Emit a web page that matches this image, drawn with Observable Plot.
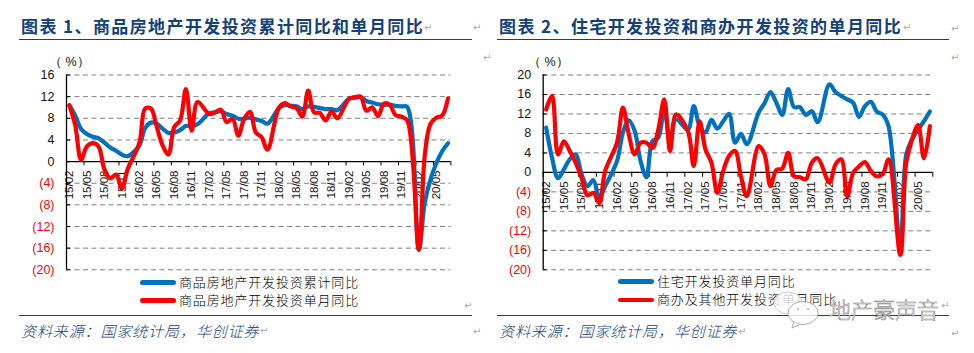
<!DOCTYPE html>
<html><head><meta charset="utf-8">
<script src="https://cdn.jsdelivr.net/npm/d3@7"></script>
<script src="https://cdn.jsdelivr.net/npm/@observablehq/plot@0.6"></script>
<style>
html,body{margin:0;padding:0;background:#fff;}
#root{position:relative;width:974px;height:353px;overflow:hidden;font-family:"Noto Sans CJK SC","Noto Sans",sans-serif;}
#root svg{position:absolute;top:0;background:transparent;overflow:visible;}
.t{position:absolute;white-space:pre;line-height:1;}
.title{font-size:17px;font-weight:700;color:#12417c;letter-spacing:1.4px;}
.rule{position:absolute;height:1.4px;background:#12417c;}
.src{font-size:15px;font-style:italic;color:#12417c;letter-spacing:.9px;font-weight:300;}
.leg{font-size:13px;color:#000;letter-spacing:.85px;font-weight:300;}
.sw{position:absolute;width:36px;height:4.5px;border-radius:2.5px;}
.unit{font-family:"Liberation Sans",sans-serif;font-size:12.5px;color:#111;}
.ret{font-family:"DejaVu Sans",sans-serif;font-size:10px;color:#aaa;}
</style></head><body><div id="root"></div>
<script>
const categories = [
 "15/02","15/03","15/04","15/05","15/06","15/07","15/08","15/09","15/10","15/11","15/12",
 "16/02","16/03","16/04","16/05","16/06","16/07","16/08","16/09","16/10","16/11","16/12",
 "17/02","17/03","17/04","17/05","17/06","17/07","17/08","17/09","17/10","17/11","17/12",
 "18/02","18/03","18/04","18/05","18/06","18/07","18/08","18/09","18/10","18/11","18/12",
 "19/02","19/03","19/04","19/05","19/06","19/07","19/08","19/09","19/10","19/11","19/12",
 "20/02","20/03","20/04","20/05","20/06","20/07"];
const tickLabels = ["15/02","15/05","15/08","15/11","16/02","16/05","16/08","16/11","17/02","17/05","17/08","17/11",
 "18/02","18/05","18/08","18/11","19/02","19/05","19/08","19/11","20/02","20/05"];
const cumulative = [
 10.4,8.5,6.0,5.1,4.6,4.3,3.5,2.6,2.0,1.3,1.0,
 3.0,6.2,7.2,7.0,6.1,5.3,5.4,5.8,6.6,6.5,6.9,
 8.9,9.1,9.3,8.8,8.5,7.9,7.9,8.1,7.8,7.5,7.0,
 9.9,10.4,10.3,10.2,9.7,10.2,10.1,9.9,9.7,9.7,9.5,
 11.6,11.8,11.9,11.2,10.9,10.6,10.5,10.5,10.3,10.2,10.1,
 -16.3,-7.7,-3.3,-0.3,1.9,3.4];
const monthly = [
 10.4,6.7,0.3,2.8,3.4,2.8,-1.4,-3.1,-2.4,-5.0,-1.4,
 3.4,9.8,9.8,6.4,3.0,1.3,6.4,7.6,13.4,5.7,11.0,
 8.8,9.1,9.6,7.3,7.9,4.8,7.9,9.2,5.4,4.5,2.2,
 10.0,10.8,10.2,9.9,8.3,13.1,9.1,9.0,7.6,9.3,8.0,
 11.6,11.9,12.0,9.4,10.0,8.4,10.7,10.5,8.6,8.3,7.6,
 -16.3,1.0,7.0,8.1,8.5,11.7];
const residential = [
 9.2,3.0,-1.2,0.6,2.7,3.7,-0.4,-2.8,-1.6,-5.2,-2.8,
 2.3,8.2,10.7,8.5,2.3,-1.0,6.4,7.1,13.0,6.5,10.9,
 8.8,13.6,9.5,8.2,10.8,9.0,10.5,12.0,6.1,7.9,5.8,
 12.3,14.2,16.5,14.3,11.8,17.1,13.4,13.4,11.8,12.6,10.3,
 18.1,16.5,15.7,15.0,14.3,11.4,13.6,14.5,12.5,11.9,9.5,
 -15.2,3.7,6.8,8.8,10.5,12.5];
const commercial = [
 12.9,15.7,3.7,6.4,4.4,2.0,-1.1,-4.7,-4.2,-6.3,0.3,
 6.1,13.3,7.8,3.7,6.1,6.1,5.0,8.8,15.0,4.4,11.9,
 8.5,1.3,10.5,4.7,2.0,-4.2,0.3,3.4,4.4,-0.8,-4.9,
 5.4,3.7,-2.8,0.5,0.8,4.0,-0.8,-1.0,-1.4,2.0,2.9,
 -2.1,1.6,2.7,-4.9,-0.1,1.2,2.1,0.3,-0.8,-0.4,2.7,
 -17.0,2.0,6.8,9.7,2.9,9.5];
const leftTicks = [16,12,8,4,0,-4,-8,-12,-16,-20];
const rightTicks = [20,16,12,8,4,0,-4,-8,-12,-16,-20];
const BLUE = "#0070c0", RED = "#ff0000";

const monthIndex = s => (+s.slice(0,2)-15)*12 + (+s.slice(3)-2);
const edges = d3.range(-0.5, 66, 3);
const fmt = d => d < 0 ? `(${-d})` : `${d}`;

function chart({blue, red, ticks, left, marginLeft, marginRight}) {
  const table = categories.map((c,i)=>({x:monthIndex(c), b:blue[i], r:red[i]}));
  const pos = ticks.filter(d=>d>=0), neg = ticks.filter(d=>d<0);
  const svg = Plot.plot({
    width:490, height:353, marginLeft, marginRight, marginTop:74.5, marginBottom:353-269.3,
    x:{type:"linear", domain:[-0.5,65.5], axis:null},
    y:{type:"linear", domain:[d3.min(ticks),d3.max(ticks)], axis:null},
    style:{background:"transparent"},
    marks:[
      Plot.ruleY(ticks.filter(d=>d!==0),{stroke:"#7f7f7f",strokeWidth:1,strokeDasharray:"5,3.5"}),
      Plot.axisY({ticks:pos,tickFormat:fmt,tickSize:-4,tickPadding:16,fontSize:12.5,fill:"#111",fontFamily:"Liberation Sans",label:null}),
      Plot.axisY({ticks:neg,tickFormat:fmt,tickSize:-4,tickPadding:16,fontSize:12.5,fill:RED,fontFamily:"Liberation Sans",label:null}),
      Plot.text(tickLabels,{x:monthIndex,y:()=>0,text:d=>d,rotate:-90,textAnchor:"end",dy:9,fontSize:11.5,fill:"#111",fontFamily:"Liberation Sans"}),
      Plot.ruleX([-0.5],{stroke:"#000",strokeWidth:1.3}),
      Plot.ruleY([0],{stroke:"#000",strokeWidth:1.3}),
      Plot.ruleX(edges,{y1:0,y2:()=>d3.max(ticks)/-20,stroke:"#000",strokeWidth:1}),
      Plot.line(table,{x:"x",y:"b",stroke:BLUE,strokeWidth:4.2,curve:"catmull-rom",strokeLinejoin:"round",strokeLinecap:"round"}),
      Plot.line(table,{x:"x",y:"r",stroke:RED,strokeWidth:4.2,curve:"catmull-rom",strokeLinejoin:"round",strokeLinecap:"round"})
    ]
  });
  svg.style.left = left+"px";
  return svg;
}

const root = document.getElementById("root");
root.append(chart({blue:cumulative,red:monthly,ticks:leftTicks,left:0,marginLeft:66,marginRight:39.6}));
root.append(chart({blue:residential,red:commercial,ticks:rightTicks,left:484,marginLeft:58.7,marginRight:41.7}));

function put(cls,text,x,y){const e=document.createElement("div");e.className="t "+cls;e.textContent=text;e.style.left=x+"px";e.style.top=y+"px";root.append(e);return e;}
function rule(x,w,y){const e=document.createElement("div");e.className="rule";e.style.left=x+"px";e.style.width=w+"px";e.style.top=y+"px";root.append(e);}
function sw(x,y,c){const e=document.createElement("div");e.className="sw";e.style.left=x+"px";e.style.top=(y-2.25)+"px";e.style.background=c;root.append(e);}

put("title","图表 1、商品房地产开发投资累计同比和单月同比",21,17);
put("title","图表 2、住宅开发投资和商办开发投资的单月同比",499,17);
rule(19,453,38.6);rule(497,452,38.6);rule(19,453,315);rule(497,452,315);
put("unit","（ %）",49,56);put("unit","（ %）",528,56);
sw(140,282.7,BLUE);sw(140,300.7,RED);sw(618,281.7,BLUE);sw(618,300,RED);
put("leg","商品房地产开发投资累计同比",179,275);
put("leg","商品房地产开发投资单月同比",179,293);
put("leg","住宅开发投资单月同比",657,274);
put("leg","商办及其他开发投资单月同比",657,292);
put("src","资料来源：国家统计局，华创证券",21,323);
put("src","资料来源：国家统计局，华创证券",499,323);
[[424,23],[473,23],[483,53],[464,301],[260,326],[473,327],[903,23],[951,24],[951,53],[738,327],[951,329]].forEach(([x,y])=>put("ret","↵",x,y));

// watermark
const NS="http://www.w3.org/2000/svg";
const wm=document.createElementNS(NS,"svg");
wm.setAttribute("width",974);wm.setAttribute("height",353);wm.style.left="0";
wm.innerHTML=`<ellipse cx="788" cy="303" rx="14" ry="11" fill="#fff" fill-opacity=".75" stroke="#ccc"/>
<ellipse cx="803" cy="313" rx="15" ry="11.5" fill="#fff" fill-opacity=".85" stroke="#aaa"/>
<path d="M794 322l-2 6 7-3" fill="#fff" stroke="#aaa"/>
<circle cx="798" cy="309" r="1" fill="#aaa"/><circle cx="808" cy="309" r="1" fill="#aaa"/>
<text x="829" y="318" font-size="22" font-family="Noto Sans CJK SC" font-weight="300" fill="#fff" stroke="#8c8c8c" stroke-width=".6">地产豪声音</text>`;
root.append(wm);
put("ret","↵",941,301);
</script></body></html>
